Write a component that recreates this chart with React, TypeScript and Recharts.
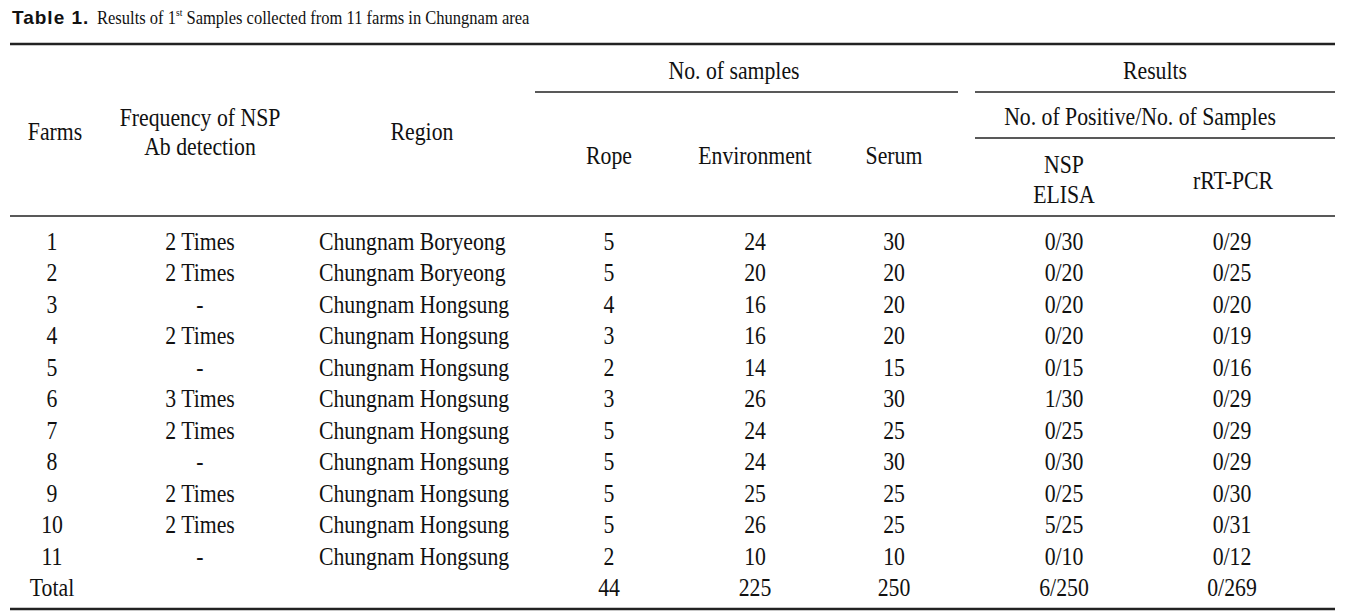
import { Surface, Layer } from "recharts";

// Table data
const farms = ["1", "2", "3", "4", "5", "6", "7", "8", "9", "10", "11", "Total"];
const frequency = ["2 Times", "2 Times", "-", "2 Times", "-", "3 Times", "2 Times", "-", "2 Times", "2 Times", "-", ""];
const regions = [
  "Chungnam Boryeong",
  "Chungnam Boryeong",
  "Chungnam Hongsung",
  "Chungnam Hongsung",
  "Chungnam Hongsung",
  "Chungnam Hongsung",
  "Chungnam Hongsung",
  "Chungnam Hongsung",
  "Chungnam Hongsung",
  "Chungnam Hongsung",
  "Chungnam Hongsung",
  "",
];
const rope = [5, 5, 4, 3, 2, 3, 5, 5, 5, 5, 2, 44];
const environment = [24, 20, 16, 16, 14, 26, 24, 24, 25, 26, 10, 225];
const serum = [30, 20, 20, 20, 15, 30, 25, 30, 25, 25, 10, 250];
const nspElisa = ["0/30", "0/20", "0/20", "0/20", "0/15", "1/30", "0/25", "0/30", "0/25", "5/25", "0/10", "6/250"];
const rtPcr = ["0/29", "0/25", "0/20", "0/19", "0/16", "0/29", "0/29", "0/29", "0/30", "0/31", "0/12", "0/269"];

const W = 1353;
const H = 613;
const SERIF = "Liberation Serif, Times New Roman, serif";
const SANS = "Liberation Sans, Arial, sans-serif";
const FS = 25;
const SQUEEZE = 0.87; // the source typeface is a condensed Times

type Anchor = "start" | "middle";

const columns: { x: number; anchor: Anchor; values: string[] }[] = [
  { x: 52, anchor: "middle", values: farms },
  { x: 200, anchor: "middle", values: frequency },
  { x: 319, anchor: "start", values: regions },
  { x: 609, anchor: "middle", values: rope.map(String) },
  { x: 755, anchor: "middle", values: environment.map(String) },
  { x: 894, anchor: "middle", values: serum.map(String) },
  { x: 1064, anchor: "middle", values: nspElisa },
  { x: 1232, anchor: "middle", values: rtPcr },
];

const rowTop = 241;
const rowStep = 31.5;

function Cell({ x, y, text, anchor = "middle" }: { x: number; y: number; text: string; anchor?: Anchor }) {
  return (
    <text
      transform={`translate(${x},${y}) scale(${SQUEEZE},1)`}
      dy="0.34em"
      textAnchor={anchor}
      fontFamily={SERIF}
      fontSize={FS}
      fill="#111"
    >
      {text}
    </text>
  );
}

function Rule({ x1, x2, y, w }: { x1: number; x2: number; y: number; w: number }) {
  return <line x1={x1} x2={x2} y1={y} y2={y} stroke="#222" strokeWidth={w} />;
}

export default function App() {
  return (
    <div style={{ position: "absolute", left: 0, top: 0, width: W, height: H, background: "#fff" }}>
      <Surface width={W} height={H} viewBox={{ x: 0, y: 0, width: W, height: H }}>
        {/* Title */}
        <text x={12} y={24} fontFamily={SANS} fontWeight="bold" fontSize={19} letterSpacing={1} fill="#111">
          Table 1.
        </text>
        <text transform={`translate(97,24) scale(${SQUEEZE},1)`} fontFamily={SERIF} fontSize={19} fill="#111">
          Results of 1
          <tspan fontSize={11} dy={-8}>st</tspan>
          <tspan dy={8}> Samples collected from 11 farms in Chungnam area</tspan>
        </text>

        {/* Rules */}
        <Rule x1={10} x2={1335} y={44} w={2.5} />
        <Rule x1={535} x2={958} y={92} w={1.3} />
        <Rule x1={975} x2={1335} y={92} w={1.3} />
        <Rule x1={975} x2={1335} y={138} w={1.3} />
        <Rule x1={10} x2={1335} y={216} w={1.5} />
        <Rule x1={10} x2={1335} y={609} w={2.5} />

        {/* Header */}
        <Layer>
          <Cell x={734} y={70} text="No. of samples" />
          <Cell x={1155} y={70} text="Results" />
          <Cell x={1140} y={116} text="No. of Positive/No. of Samples" />
          <Cell x={55} y={131} text="Farms" />
          <Cell x={200} y={117} text="Frequency of NSP" />
          <Cell x={200} y={146} text="Ab detection" />
          <Cell x={422} y={131} text="Region" />
          <Cell x={609} y={155} text="Rope" />
          <Cell x={755} y={155} text="Environment" />
          <Cell x={894} y={155} text="Serum" />
          <Cell x={1064} y={164} text="NSP" />
          <Cell x={1064} y={194} text="ELISA" />
          <Cell x={1233} y={180} text="rRT-PCR" />
        </Layer>

        {/* Body */}
        <Layer>
          {columns.map((col, ci) =>
            col.values.map((v, ri) =>
              v ? (
                <Cell key={`${ci}-${ri}`} x={col.x} y={rowTop + ri * rowStep} text={v} anchor={col.anchor} />
              ) : null
            )
          )}
        </Layer>
      </Surface>
    </div>
  );
}
